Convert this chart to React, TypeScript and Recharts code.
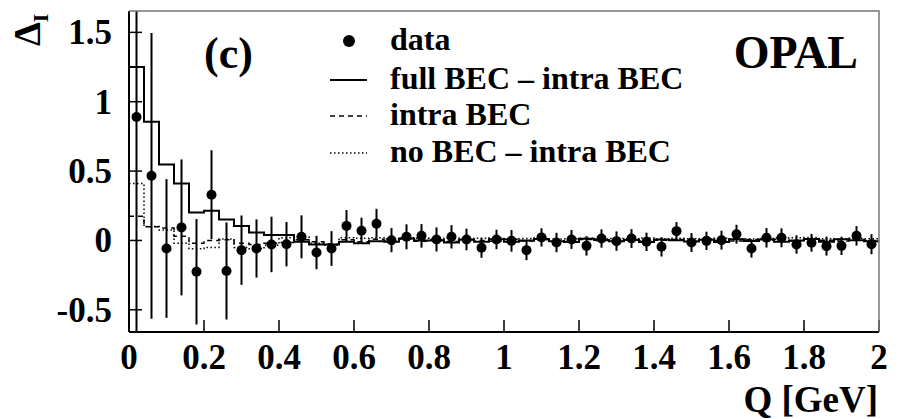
import { ComposedChart, ErrorBar, Line, Scatter, XAxis, YAxis } from "recharts";

// Q binning (GeV)
const BIN_WIDTH = 0.04;

// measured Delta_I per Q bin, with statistical errors
const dataDelta = [
  0.89, 0.466, -0.058, 0.094, -0.226, 0.33, -0.22, -0.07, -0.058, -0.029,
  -0.027, 0.026, -0.087, -0.058, 0.105, 0.07, 0.12, 0.002, 0.026, 0.033,
  0.007, 0.026, 0.007, -0.053, 0.007, -0.003, -0.07, 0.022, -0.015, 0.007,
  -0.039, 0.014, -0.005, 0.014, -0.01, -0.046, 0.067, -0.015, -0.003, 0.002,
  0.045, -0.058, 0.019, 0.019, -0.029, -0.017, -0.041, -0.039, 0.033, -0.027,
];
const dataError = [
  1.9, 1.03, 0.5, 0.49, 0.38, 0.32, 0.35, 0.25, 0.21, 0.2,
  0.16, 0.155, 0.12, 0.125, 0.114, 0.094, 0.108, 0.087, 0.09, 0.085,
  0.087, 0.084, 0.078, 0.072, 0.07, 0.078, 0.072, 0.066, 0.07, 0.068,
  0.07, 0.066, 0.07, 0.068, 0.066, 0.07, 0.065, 0.068, 0.066, 0.068,
  0.068, 0.066, 0.07, 0.068, 0.066, 0.064, 0.068, 0.066, 0.07, 0.072,
];

// Monte Carlo predictions, same binning
const fullMinusIntra = [
  1.25, 0.856, 0.548, 0.411, 0.202, 0.214, 0.151, 0.105, 0.058, 0.04,
  0.04, -0.01, -0.029, -0.029, -0.01, -0.02, -0.005, -0.01, 0.014, 0.0,
  0.0, -0.015, 0.005, -0.01, 0.008, -0.01, 0.0, 0.01, -0.005, -0.012,
  0.012, 0.003, -0.006, 0.004, -0.012, 0.006, 0.002, -0.008, 0.005, -0.012,
  0.008, -0.004, 0.006, -0.01, 0.0, 0.01, -0.01, 0.008, 0.002, -0.005,
];
const intraOnly = [
  0.175, 0.098, 0.09, 0.03, -0.02, 0.0, 0.005, -0.02, -0.03, -0.02,
  -0.015, 0.005, -0.01, -0.025, 0.005, -0.01, 0.008, 0.0, 0.01, -0.005,
  0.004, -0.008, 0.006, 0.0, -0.006, 0.008, -0.004, 0.005, 0.0, -0.008,
  0.006, 0.0, -0.005, 0.008, -0.004, 0.002, 0.006, -0.006, 0.004, 0.0,
  -0.004, 0.006, 0.0, 0.008, -0.004, 0.012, 0.002, -0.004, 0.006, 0.0,
];
const noMinusIntra = [
  0.41, 0.1, 0.075, -0.02, -0.06, -0.05, 0.01, -0.05, -0.06, -0.035,
  0.02, 0.025, -0.02, -0.035, 0.02, 0.015, 0.02, 0.01, 0.02, 0.015,
  0.012, 0.018, 0.01, 0.015, 0.02, 0.01, 0.014, 0.018, 0.01, 0.012,
  0.016, 0.01, 0.014, 0.012, 0.018, 0.01, 0.015, 0.012, 0.01, 0.016,
  0.012, 0.01, 0.014, 0.018, 0.02, 0.022, 0.012, 0.01, 0.015, 0.012,
];

const xTicks = [0, 0.2, 0.4, 0.6, 0.8, 1, 1.2, 1.4, 1.6, 1.8, 2];
const yTicks = [-0.5, 0, 0.5, 1, 1.5];

const FONT = "'Liberation Serif', 'Times New Roman', serif";
const PLOT = { left: 129, right: 879, top: 11, bottom: 332 };

const points = dataDelta.map((v, i) => ({
  q: (i + 0.5) * BIN_WIDTH,
  v,
  err: dataError[i],
}));

// histogram outline: one point per lower bin edge plus the closing edge
const toSteps = (vals: number[]) => [
  ...vals.map((v, i) => ({ q: i * BIN_WIDTH, v })),
  { q: vals.length * BIN_WIDTH, v: vals[vals.length - 1] },
];

// ticks point into the frame, labels sit outside
function XTick({ x, payload }: any) {
  return (
    <g>
      <line x1={x} x2={x} y1={PLOT.bottom} y2={PLOT.bottom - 12} stroke="#000" strokeWidth={1.5} />
      <text x={x} y={369} textAnchor="middle" fontFamily={FONT} fontWeight="bold" fontSize={35} fill="#000">
        {String(payload.value)}
      </text>
    </g>
  );
}

function YTick({ y, payload }: any) {
  return (
    <g>
      <line x1={PLOT.left} x2={PLOT.left + 13} y1={y} y2={y} stroke="#000" strokeWidth={1.5} />
      <text x={112} y={y + 12} textAnchor="end" fontFamily={FONT} fontWeight="bold" fontSize={35} fill="#000">
        {String(payload.value)}
      </text>
    </g>
  );
}

const Dot = (p: any) => <circle cx={p.cx} cy={p.cy} r={5} fill="#000" />;

const textStyle = { fontFamily: FONT, fontWeight: "bold" as const, fill: "#000" };

// error bars that run past the frame get cut at its edges
const css = `
body { margin: 0; }
.recharts-errorBars, .recharts-errorBar { clip-path: url(#plot-area); }
`;

export default function App() {
  return (
    <div style={{ position: "relative", width: 900, height: 419, background: "#fff" }}>
      <style>{css}</style>
      <svg width={0} height={0} style={{ position: "absolute" }}>
        <defs>
          <clipPath id="plot-area" clipPathUnits="userSpaceOnUse">
            <rect x={PLOT.left} y={PLOT.top} width={PLOT.right - PLOT.left} height={PLOT.bottom - PLOT.top} />
          </clipPath>
        </defs>
      </svg>
      <ComposedChart width={900} height={419} margin={{ top: 11, right: 21, bottom: 47, left: 69 }}>
        <XAxis
          type="number"
          dataKey="q"
          domain={[0, 2]}
          ticks={xTicks}
          interval={0}
          allowDataOverflow
          height={40}
          tickLine={false}
          axisLine={{ stroke: "#000", strokeWidth: 2 }}
          tick={<XTick />}
        />
        <YAxis
          type="number"
          dataKey="v"
          domain={[-0.66, 1.654]}
          ticks={yTicks}
          interval={0}
          allowDataOverflow
          width={60}
          tickLine={false}
          axisLine={{ stroke: "#000", strokeWidth: 2 }}
          tick={<YTick />}
        />
        <Line
          data={toSteps(noMinusIntra)}
          dataKey="v"
          type="stepAfter"
          stroke="#000"
          strokeWidth={1.5}
          strokeDasharray="1.5 2.5"
          dot={false}
          isAnimationActive={false}
        />
        <Line
          data={toSteps(intraOnly)}
          dataKey="v"
          type="stepAfter"
          stroke="#000"
          strokeWidth={1.5}
          strokeDasharray="5 4"
          dot={false}
          isAnimationActive={false}
        />
        <Line
          data={toSteps(fullMinusIntra)}
          dataKey="v"
          type="stepAfter"
          stroke="#000"
          strokeWidth={2}
          dot={false}
          isAnimationActive={false}
        />
        <Scatter data={points} dataKey="v" shape={<Dot />} isAnimationActive={false}>
          <ErrorBar dataKey="err" direction="y" width={0} stroke="#000" strokeWidth={2} isAnimationActive={false} />
        </Scatter>
      </ComposedChart>

      <svg width={900} height={419} style={{ position: "absolute", left: 0, top: 0, pointerEvents: "none" }}>
        {/* top and right frame edges */}
        <polyline
          points={`${PLOT.left},${PLOT.top} ${PLOT.right},${PLOT.top} ${PLOT.right},${PLOT.bottom}`}
          fill="none"
          stroke="#777"
          strokeWidth={1.5}
        />

        <g transform="translate(40,46) rotate(-90)">
          <text {...textStyle} fontSize={38}>
            Δ<tspan fontSize={22} dy={8}>I</tspan>
          </text>
        </g>

        <text {...textStyle} x={204} y={68} fontSize={44}>(c)</text>
        <text {...textStyle} x={858} y={68} fontSize={46} textAnchor="end">OPAL</text>

        {/* legend */}
        <circle cx={349} cy={41} r={6} fill="#000" />
        <line x1={330} x2={367} y1={80} y2={80} stroke="#000" strokeWidth={2} />
        <line x1={330} x2={367} y1={116} y2={116} stroke="#000" strokeWidth={1.5} strokeDasharray="5 4" />
        <line x1={330} x2={367} y1={153} y2={153} stroke="#000" strokeWidth={1.5} strokeDasharray="1.5 2.5" />
        <text {...textStyle} x={390} y={50} fontSize={32}>data</text>
        <text {...textStyle} x={390} y={89} fontSize={32}>full BEC – intra BEC</text>
        <text {...textStyle} x={390} y={125} fontSize={32}>intra BEC</text>
        <text {...textStyle} x={390} y={162} fontSize={32}>no BEC – intra BEC</text>

        <text {...textStyle} x={878} y={412} fontSize={37} textAnchor="end">Q [GeV]</text>
      </svg>
    </div>
  );
}
